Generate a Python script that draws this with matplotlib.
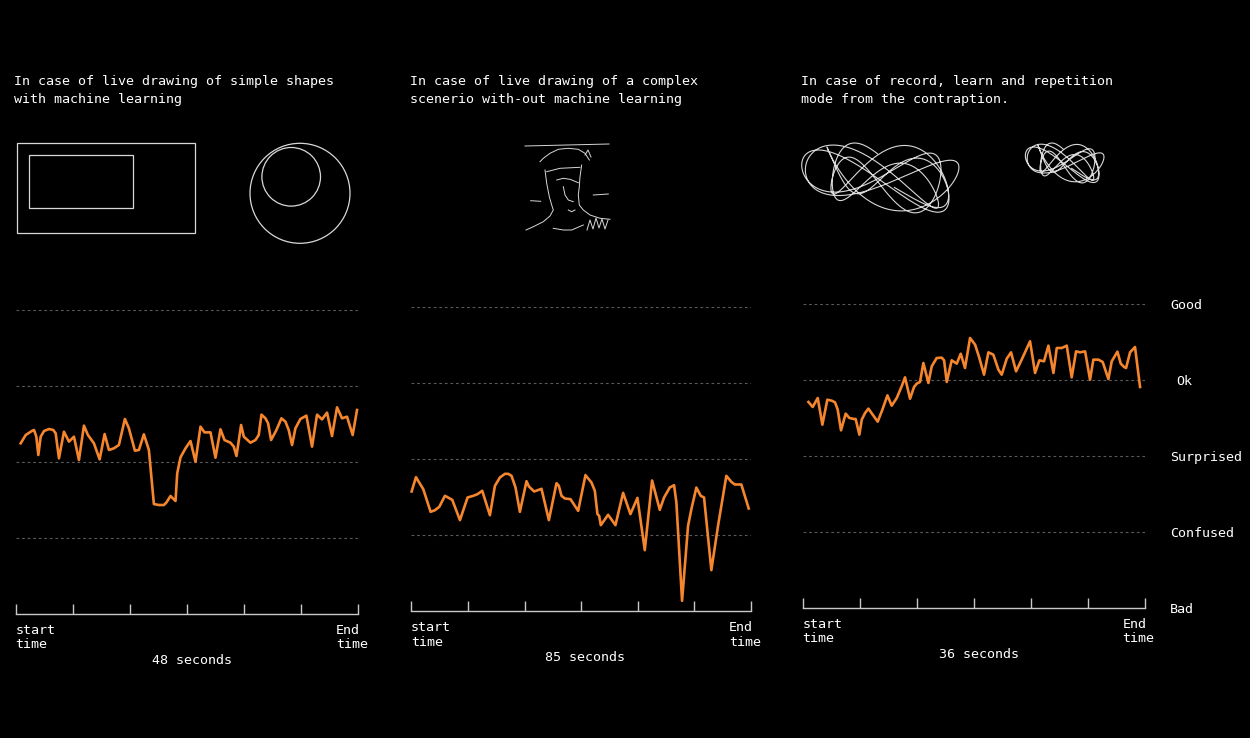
import numpy as np
import matplotlib
matplotlib.use("Agg")
import matplotlib.pyplot as plt
from matplotlib.patches import Rectangle, Circle

W, H = 1250, 738
ORANGE = "#f5862e"
FONT = "DejaVu Sans Mono"

mood_labels = ["Bad", "Confused", "Surprised", "Ok", "Good"]

# panel 1: simple shapes with machine learning (48 s)
shapes_time = [0.70, 1.40, 2.33, 2.57, 2.89, 3.17, 3.50, 3.97, 4.67, 5.27, 5.60, 6.06,
               6.76, 7.46, 8.16, 8.86, 9.56, 10.12, 10.96, 11.76, 12.46, 13.06, 13.76,
               14.46, 15.30, 15.86, 16.70, 17.26, 17.96, 18.66, 19.36, 20.06, 20.76,
               21.13, 21.69, 22.39, 22.63, 23.09, 23.79, 24.49, 25.19, 25.89, 26.45,
               27.29, 27.99, 28.69, 29.25, 30.09, 30.56, 30.93, 31.58, 31.96, 32.89,
               33.59, 34.05, 34.43, 34.99, 35.36, 35.78, 36.53, 37.23, 37.79, 38.25,
               38.72, 39.19, 39.89, 40.73, 41.52, 42.22, 42.92, 43.62, 44.32, 45.02,
               45.72, 46.42, 47.21, 47.82]
shapes_mood = [2.246, 2.355, 2.412, 2.421, 2.333, 2.092, 2.333, 2.408, 2.434, 2.421,
               2.377, 2.048, 2.399, 2.268, 2.333, 2.026, 2.478, 2.355, 2.246, 2.035,
               2.368, 2.158, 2.180, 2.224, 2.566, 2.443, 2.149, 2.158, 2.364, 2.158,
               1.447, 1.434, 1.434, 1.469, 1.553, 1.487, 1.851, 2.061, 2.180, 2.276,
               2.004, 2.465, 2.390, 2.390, 2.057, 2.430, 2.289, 2.254, 2.202, 2.079,
               2.487, 2.333, 2.254, 2.289, 2.355, 2.623, 2.575, 2.509, 2.289, 2.421,
               2.575, 2.531, 2.421, 2.224, 2.443, 2.566, 2.610, 2.202, 2.623, 2.561,
               2.649, 2.342, 2.719, 2.575, 2.596, 2.355, 2.684]

# panel 2: complex scene without machine learning (85 s)
complex_time = [0.08, 1.17, 3.0, 4.83, 5.92, 7.0, 8.42, 10.25, 12.17, 14.08, 15.5,
                16.58, 17.75, 19.67, 20.92, 22.17, 23.42, 24.25, 25.08, 26.08, 27.17,
                28.83, 29.42, 30.75, 32.58, 34.42, 36.33, 36.92, 37.58, 38.42, 39.83,
                41.75, 43.58, 45.08, 45.92, 46.58, 47.0, 47.42, 49.25, 51.08, 53.0,
                54.83, 56.58, 58.42, 60.25, 62.17, 63.25, 64.67, 65.75, 66.33, 67.75,
                69.25, 70.08, 71.33, 72.42, 73.25, 75.08, 76.75, 78.83, 80.08, 80.92,
                82.58, 84.42]
complex_mood = [1.566, 1.754, 1.596, 1.298, 1.320, 1.364, 1.509, 1.456, 1.189, 1.487,
                1.509, 1.531, 1.575, 1.254, 1.640, 1.750, 1.798, 1.798, 1.772, 1.618,
                1.298, 1.702, 1.632, 1.566, 1.601, 1.189, 1.675, 1.640, 1.509, 1.474,
                1.465, 1.311, 1.781, 1.684, 1.575, 1.268, 1.246, 1.123, 1.259, 1.123,
                1.548, 1.268, 1.482, 0.794, 1.711, 1.325, 1.487, 1.618, 1.649, 1.421,
                0.127, 1.114, 1.333, 1.618, 1.509, 1.487, 0.531, 1.114, 1.772, 1.693,
                1.658, 1.658, 1.342]

# panel 3: record, learn and repeat (36 s)
repeat_time = [0.60, 1.05, 1.58, 2.07, 2.59, 3.05, 3.40, 3.68, 4.03, 4.52, 4.91, 5.40,
               5.57, 5.96, 6.21, 6.56, 6.91, 7.36, 7.89, 8.38, 8.91, 9.36, 9.89, 10.41,
               10.76, 11.29, 11.71, 11.99, 12.34, 12.69, 13.22, 13.57, 14.09, 14.62,
               14.87, 15.15, 15.67, 16.20, 16.62, 17.07, 17.60, 18.13, 18.58, 19.07,
               19.53, 20.05, 20.58, 20.93, 21.46, 21.91, 22.44, 23.03, 23.91, 24.44,
               24.89, 25.38, 25.84, 26.37, 26.72, 27.24, 27.77, 28.29, 28.75, 29.17,
               29.70, 30.22, 30.57, 31.10, 31.55, 32.15, 32.50, 33.10, 33.45, 33.80,
               34.01, 34.43, 34.95, 35.48]
repeat_mood = [2.711, 2.645, 2.763, 2.412, 2.741, 2.728, 2.706, 2.610, 2.338, 2.557,
               2.500, 2.487, 2.487, 2.281, 2.478, 2.566, 2.623, 2.544, 2.452, 2.610,
               2.798, 2.662, 2.763, 2.917, 3.035, 2.754, 2.908, 2.952, 2.974, 3.224,
               2.961, 3.180, 3.289, 3.294, 3.259, 2.974, 3.259, 3.215, 3.346, 3.158,
               3.553, 3.465, 3.289, 3.070, 3.364, 3.333, 3.136, 3.070, 3.281, 3.364,
               3.114, 3.268, 3.509, 3.092, 3.259, 3.246, 3.452, 3.092, 3.421, 3.421,
               3.452, 3.035, 3.377, 3.364, 3.377, 3.004, 3.268, 3.268, 3.237, 3.013,
               3.246, 3.373, 3.215, 3.171, 3.158, 3.364, 3.434, 2.908]

panels = [
    dict(t=shapes_time, m=shapes_mood, dur=48, box=(15.7, 310, 358.3, 614),
         title=["In case of live drawing of simple shapes", "with machine learning"],
         tx=14, lab_base=634, end_x=336, sec_x=192),
    dict(t=complex_time, m=complex_mood, dur=85, box=(411.3, 306.5, 751, 610.5),
         title=["In case of live drawing of a complex", "scenerio with-out machine learning"],
         tx=410, lab_base=631, end_x=729, sec_x=585),
    dict(t=repeat_time, m=repeat_mood, dur=36, box=(802.7, 304, 1145, 608),
         title=["In case of record, learn and repetition", "mode from the contraption."],
         tx=801, lab_base=628, end_x=1122.5, sec_x=979),
]


def px_rect(left, top, right, bottom):
    return [left / W, 1 - bottom / H, (right - left) / W, (bottom - top) / H]


fig = plt.figure(figsize=(W / 100, H / 100), dpi=100, facecolor="black")

for p in panels:
    ax = fig.add_axes(px_rect(*p["box"]))
    ax.set_facecolor("none")
    ax.set_xlim(0, p["dur"])
    ax.set_ylim(0, 4)
    for lvl in range(1, 5):
        ax.axhline(lvl, color="#5a5a5a", lw=0.8, ls=(0, (2.5, 2.5)))
    ax.plot(p["t"], p["m"], color=ORANGE, lw=1.9, clip_on=False, solid_joinstyle="round")
    for s in ["top", "left", "right"]:
        ax.spines[s].set_visible(False)
    ax.spines["bottom"].set_color("#c8c8c8")
    ax.spines["bottom"].set_linewidth(1)
    ax.set_xticks(np.linspace(0, p["dur"], 7))
    ax.set_yticks([])
    ax.tick_params(axis="x", direction="in", length=7.5, width=1, color="#c8c8c8",
                   labelbottom=False)

# overlay in pixel coordinates for texts and sketches
ov = fig.add_axes([0, 0, 1, 1])
ov.set_xlim(0, W)
ov.set_ylim(H, 0)
ov.axis("off")
ov.patch.set_alpha(0)

tkw = dict(color="white", fontsize=9.6, family=FONT, va="baseline")
for p in panels:
    ov.text(p["tx"], 85, p["title"][0], **tkw)
    ov.text(p["tx"], 103, p["title"][1], **tkw)
    left = p["box"][0]
    ov.text(left - 0.5, p["lab_base"], "start", **tkw)
    ov.text(left - 0.5, p["lab_base"] + 14.5, "time", **tkw)
    ov.text(p["end_x"], p["lab_base"], "End", **tkw)
    ov.text(p["end_x"], p["lab_base"] + 14.5, "time", **tkw)
    ov.text(p["sec_x"], p["lab_base"] + 30, "%d seconds" % p["dur"], ha="center", **tkw)

# mood labels on the right, aligned with panel 3 levels
top3, bot3 = panels[2]["box"][1], panels[2]["box"][3]
for i, lab in enumerate(mood_labels):
    y = bot3 - i * (bot3 - top3) / 4
    ov.text(1176 if lab == "Ok" else 1170, y + 5, lab, **tkw)

SK = "#d8d8d8"
# panel 1 sketch: rectangles and circles
ov.add_patch(Rectangle((17.3, 143.3), 177.7, 90, fill=False, ec=SK, lw=0.9))
ov.add_patch(Rectangle((29.3, 155), 104, 53, fill=False, ec=SK, lw=0.9))
ov.add_patch(Circle((300, 193.3), 50, fill=False, ec=SK, lw=0.9))
ov.add_patch(Circle((291.2, 176.8), 29.3, fill=False, ec=SK, lw=0.9))

# panel 2 sketch: edge drawing of a face
face_lines = [
    [(525, 146), (609, 144)],
    [(540, 161.7), (543.3, 158.3), (550, 153.3), (558.3, 149.3), (568.3, 148.3),
     (578.3, 149.3), (585, 153.3), (589.3, 160)],
    [(545, 170), (546.7, 183.3), (549.3, 196.7), (551.7, 205), (553.3, 210), (550, 216),
     (543.3, 221.7), (533.3, 226.7), (526, 230)],
    [(581.7, 165), (580, 176.7), (579.3, 186.7), (578.3, 195), (579.3, 205), (583.3, 210),
     (590, 215), (600, 218.3), (610, 219.3)],
    [(546.7, 171.7), (560, 168.3), (580, 167.3)],
    [(556.7, 180), (563.3, 178.3), (570, 179.3), (578.3, 182.7)],
    [(563.3, 186.7), (565, 195), (568.3, 200), (573.3, 201.7)],
    [(568.3, 210), (571.7, 211.7), (575, 210)],
    [(593.3, 195), (608.3, 194)],
    [(530.7, 200.7), (540.7, 201.3)],
    [(553.3, 228.3), (563.3, 230), (571.7, 230), (583.3, 225)],
    [(587, 230), (590, 220), (593, 229), (596, 218), (599, 228), (602, 219), (605, 229),
     (608, 220)],
    [(585, 155), (588, 150), (591, 157)],
]
for seg in face_lines:
    xs, ys = zip(*seg)
    ov.plot(xs, ys, color=SK, lw=0.7)

# panel 3 sketch: repeated, drifting figure-eight scribbles
s = np.linspace(0, 10 * np.pi, 1500)
for cx, cy, ax_, ay_ in [(881, 178, 80, 35), (1065, 163, 40, 20)]:
    xs = cx + ax_ * (0.8 * np.sin(s + 0.5 * np.sin(0.21 * s)) + 0.2 * np.sin(1.5 * s + 1))
    ys = cy + ay_ * (0.7 * np.sin(2 * s + 0.8 * np.sin(0.17 * s)) + 0.3 * np.sin(0.9 * s + 2))
    ov.plot(xs, ys, color=SK, lw=0.8)

fig.savefig("out.png", dpi=100, facecolor="black")
